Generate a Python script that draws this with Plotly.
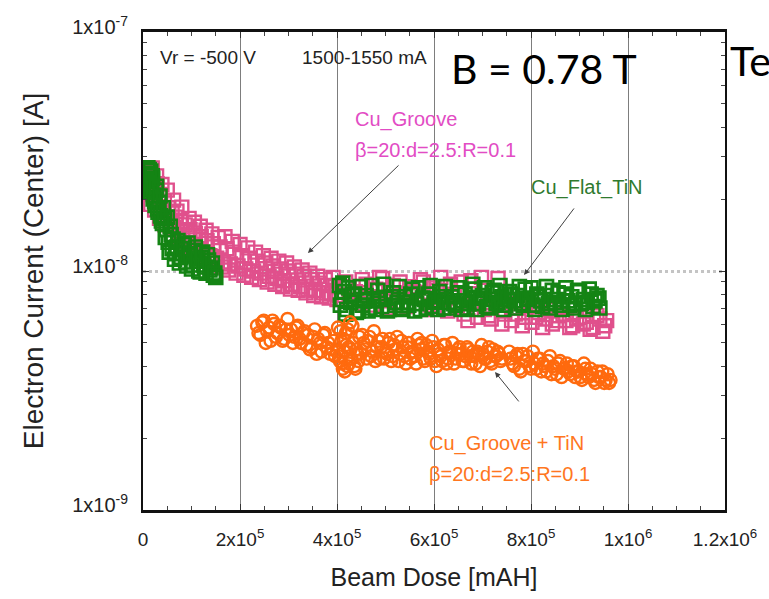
import plotly.graph_objects as go

# Beam dose in kmAH, electron current (center) in nA
groove_dose_k = [
    12, 14, 17, 20, 23, 26, 29, 32, 36, 40,
    44, 48, 52, 56, 60, 64, 68, 72, 77, 82,
    87, 92, 97, 102, 108, 114, 120, 126, 132, 138,
    145, 152, 159, 166, 173, 180, 188, 196, 204, 212,
    220, 228, 236, 244, 252, 260, 268, 276, 284, 292,
    300, 308, 316, 324, 332, 340, 348, 356, 364, 372,
    380, 388, 396, 404,
    412, 425, 438, 452, 466, 480, 494, 508, 522, 536,
    550, 564, 578, 592, 606, 620, 634, 648, 662, 676,
    690, 704, 718, 732, 746, 760, 774, 788, 802, 816,
    830, 844, 858, 872, 886, 900, 914, 928, 942, 952,
    13, 16, 19, 24, 28, 34, 39, 45, 50, 58,
    63, 70, 75, 80, 90, 95, 100, 106, 112, 118,
    124, 130, 136, 142, 148, 155, 162, 169, 176, 184,
    192, 200, 208, 216, 224, 232, 240, 248, 256, 264,
    272, 280, 288, 296, 304, 312, 320, 328, 336, 344,
    352, 360, 368, 376, 384, 392, 400,
    418, 432, 446, 460, 474, 488, 502, 516, 530, 544,
    558, 572, 586, 600, 614, 628, 642, 656, 670, 684,
    698, 712, 726, 740, 754, 768, 782, 796, 810, 824,
    838, 852, 866, 880, 894, 908, 922, 936, 948, 956,
]
groove_current_nA = [
    26.0, 23.5, 24.8, 21.0, 22.6, 19.8, 23.2, 18.6, 20.9, 17.9,
    19.6, 16.8, 18.4, 15.9, 17.6, 15.2, 16.8, 14.6, 16.1, 14.0,
    15.6, 13.5, 14.9, 12.9, 14.4, 12.4, 13.9, 12.0, 13.4, 11.6,
    13.0, 11.3, 12.6, 10.9, 12.4, 10.7, 12.0, 10.5, 11.6, 10.2,
    11.3, 10.0, 11.0, 9.8, 10.8, 9.5, 10.5, 9.3, 10.2, 9.1,
    10.0, 8.8, 9.7, 8.6, 9.5, 8.4, 9.2, 8.3, 8.9, 8.1,
    8.7, 8.0, 8.6, 7.9,
    8.6, 7.6, 8.2, 9.2, 7.8, 8.4, 9.3, 7.5, 8.1, 7.4,
    8.6, 7.9, 9.0, 7.2, 8.3, 7.6, 8.8, 7.0, 6.6, 9.1,
    6.4, 6.9, 6.3, 9.3, 6.6, 6.2, 7.0, 6.4, 6.1, 6.7,
    6.3, 6.0, 6.5, 6.2, 5.9, 6.4, 6.1, 5.8, 6.3, 5.9,
    21.5, 19.0, 27.0, 18.0, 25.0, 16.6, 23.0, 15.6, 21.8, 15.0,
    19.8, 17.8, 13.9, 18.5, 13.0, 16.6, 12.4, 16.0, 11.8, 15.4,
    11.5, 14.8, 11.1, 14.3, 10.8, 13.8, 10.4, 13.9, 10.1, 13.3,
    9.8, 12.9, 9.6, 12.5, 9.4, 12.0, 9.2, 11.6, 9.0, 11.3,
    8.8, 11.0, 8.6, 10.8, 8.4, 10.4, 8.3, 10.1, 8.1, 9.8,
    7.9, 9.5, 7.8, 9.2, 7.7, 9.4, 7.6,
    9.0, 8.0, 7.3, 8.8, 7.2, 9.4, 7.0, 8.7, 9.0, 7.1,
    8.2, 9.2, 6.9, 8.5, 9.4, 6.8, 8.0, 9.0, 6.2, 7.4,
    9.4, 6.5, 7.6, 6.0, 7.3, 6.6, 5.9, 7.1, 6.4, 5.8,
    6.9, 6.2, 6.6, 5.8, 6.3, 6.0, 5.7, 6.5, 5.6, 6.2,
]

flat_tin_dose_k = [
    10, 12, 14, 16, 18, 20, 22, 24, 27, 30,
    33, 36, 40, 44, 48, 52, 56, 60, 65, 70,
    75, 80, 85, 90, 95, 100, 105, 110, 115, 120,
    125, 130, 135, 140, 145, 150,
    11, 13, 15, 17, 19, 21, 25, 28, 31, 35,
    38, 42, 46, 50, 54, 58, 62, 67, 72, 78,
    83, 88, 93, 98, 103, 108, 113, 118, 123, 128,
    133, 138, 143, 148,
    405, 410, 415, 420, 428, 436, 444, 452, 460, 468,
    476, 484, 492, 500, 508, 516, 524, 532, 540, 548,
    556, 564, 572, 580, 588, 596, 604, 612, 620, 628,
    636, 644, 652, 660, 668, 676, 684, 692, 700, 708,
    716, 724, 732, 740, 748, 756, 764, 772, 780, 788,
    796, 804, 812, 820, 828, 836, 844, 852, 860, 868,
    876, 884, 892, 900, 908, 916, 924, 932, 940,
    407, 412, 418, 424, 432, 440, 448, 456, 464, 472,
    480, 488, 496, 504, 512, 520, 528, 536, 544, 552,
    560, 568, 576, 584, 592, 600, 608, 616, 624, 632,
    640, 648, 656, 664, 672, 680, 688, 696, 704, 712,
    720, 728, 736, 744, 752, 760, 768, 776, 784, 792,
    800, 808, 816, 824, 832, 840, 848, 856, 864, 872,
    880, 888, 896, 904, 912, 920, 928, 936, 942,
]
flat_tin_current_nA = [
    27.0, 25.5, 23.8, 26.2, 22.0, 24.4, 20.8, 19.6, 21.8, 18.2,
    19.4, 17.0, 15.8, 16.6, 14.9, 13.2, 15.4, 12.4, 11.2, 12.6,
    10.8, 11.9, 12.9, 10.5, 11.6, 10.2, 12.2, 11.0, 10.0, 11.4,
    10.6, 9.8, 11.1, 10.3, 9.6, 9.4,
    24.0, 26.6, 21.4, 23.0, 25.0, 20.0, 18.8, 22.6, 17.6, 20.6,
    16.2, 18.4, 13.8, 16.8, 12.0, 14.2, 13.6, 11.8, 13.4, 11.4,
    12.4, 10.9, 13.1, 11.8, 10.6, 12.6, 11.3, 9.9, 12.0, 10.4,
    11.7, 10.1, 10.8, 9.8,
    8.7, 7.6, 8.2, 6.9, 7.4, 8.0, 6.8, 7.2, 7.9, 7.0,
    7.5, 8.3, 7.1, 7.7, 6.9, 8.1, 7.4, 7.0, 7.8, 7.2,
    8.4, 7.3, 6.9, 7.6, 8.0, 7.1, 7.5, 8.2, 7.0, 7.4,
    7.8, 7.2, 8.1, 7.5, 7.0, 7.7, 8.4, 7.3, 7.9, 7.1,
    7.6, 8.3, 7.4, 7.8, 7.2, 8.2, 7.5, 7.9, 7.3, 8.4,
    7.6, 7.2, 8.0, 7.5, 7.9, 7.3, 8.3, 7.6, 7.2, 8.0,
    7.5, 7.8, 7.3, 8.2, 7.6, 7.4, 8.0, 7.5, 7.7,
    7.2, 8.9, 6.6, 8.5, 7.9, 6.7, 8.6, 7.5, 6.8, 8.7,
    6.9, 7.6, 8.8, 6.8, 7.8, 7.2, 8.6, 6.9, 7.4, 8.0,
    6.8, 8.5, 7.7, 7.0, 8.7, 7.4, 6.9, 7.8, 8.6, 7.0,
    7.3, 8.5, 6.9, 8.0, 7.3, 8.8, 6.9, 7.7, 8.5, 7.0,
    8.1, 7.3, 8.7, 6.9, 7.6, 8.0, 7.0, 8.6, 7.2, 7.7,
    8.5, 6.9, 7.8, 7.1, 8.6, 7.0, 7.4, 8.1, 6.9, 8.5,
    7.2, 7.0, 8.3, 7.3, 6.9, 8.4, 7.1, 7.9, 7.0,
]

groove_tin_dose_k = [
    235, 242, 249, 256, 263, 270, 277, 284, 291, 298,
    305, 312, 319, 326, 333, 340, 347, 354, 361, 368,
    375, 382, 389, 396,
    402, 406, 409, 412, 415, 418, 421, 424, 427, 430,
    434, 438, 442, 446,
    452, 458, 464, 470, 476, 482, 488, 494, 500, 506,
    512, 518, 524, 530, 536, 542, 548, 554, 560, 566,
    572, 578, 584, 590, 596, 602, 608, 614, 620, 626,
    632, 638, 644, 650, 656, 662, 668, 674, 680, 686,
    692, 698, 704, 710, 716, 722, 728, 734, 740,
    755, 762, 769, 776, 783, 790, 797, 804, 811, 818,
    825, 832, 839, 846, 853, 860, 867, 874, 881, 888,
    895, 902, 909, 916, 923, 930, 937, 944, 951, 958,
    964,
    238, 246, 253, 260, 267, 274, 281, 288, 295, 302,
    309, 316, 323, 330, 337, 344, 351, 358, 365, 372,
    379, 386, 393, 400,
    404, 407, 410, 413, 416, 419, 422, 425, 428, 432,
    436, 440, 444,
    449, 455, 461, 467, 473, 479, 485, 491, 497, 503,
    509, 515, 521, 527, 533, 539, 545, 551, 557, 563,
    569, 575, 581, 587, 593, 599, 605, 611, 617, 623,
    629, 635, 641, 647, 653, 659, 665, 671, 677, 683,
    689, 695, 701, 707, 713, 719, 725, 731, 737,
    758, 765, 772, 779, 786, 793, 800, 807, 814, 821,
    828, 835, 842, 849, 856, 863, 870, 877, 884, 891,
    898, 905, 912, 919, 926, 933, 940, 947, 954, 961,
]
groove_tin_current_nA = [
    5.9, 5.4, 6.2, 5.6, 5.1, 6.0, 5.5, 5.8, 5.2, 6.3,
    5.7, 5.3, 5.9, 5.0, 5.6, 5.4, 4.8, 5.7, 5.2, 4.6,
    5.5, 5.0, 4.7, 4.4,
    5.8, 4.2, 5.1, 3.9, 4.6, 5.5, 4.0, 4.8, 6.1, 4.3,
    5.0, 3.9, 4.5, 5.3,
    5.4, 4.7, 5.1, 4.4, 5.6, 4.8, 4.3, 5.2, 4.6, 5.0,
    4.2, 4.9, 5.3, 4.5, 4.8, 4.1, 5.0, 4.6, 4.4, 5.2,
    4.7, 4.3, 4.9, 4.5, 5.1, 4.2, 4.7, 4.4, 4.9, 4.1,
    4.6, 5.0, 4.3, 4.7, 4.5, 4.2, 4.8, 4.4, 4.6, 4.1,
    4.5, 4.9, 4.3, 4.6, 4.2, 4.7, 4.4, 4.5, 4.3,
    4.6, 4.1, 4.4, 3.9, 4.5, 4.2, 4.0, 4.6, 3.9, 4.3,
    4.1, 3.8, 4.4, 4.0, 3.7, 4.2, 3.9, 4.1, 3.7, 4.0,
    3.8, 3.6, 4.1, 3.7, 3.9, 3.5, 3.8, 3.6, 3.4, 3.7,
    3.5,
    5.5, 6.1, 5.0, 5.8, 6.2, 5.3, 5.9, 5.1, 5.7, 5.4,
    5.0, 5.8, 5.2, 5.5, 4.9, 4.7, 5.3, 4.5, 5.0, 5.4,
    4.8, 4.5, 5.1, 4.6,
    4.4, 5.6, 4.1, 5.2, 3.8, 4.9, 5.7, 4.1, 4.7, 5.9,
    4.0, 4.7, 4.2,
    4.5, 5.0, 4.3, 5.3, 4.6, 4.2, 5.1, 4.8, 4.3, 4.5,
    5.2, 4.4, 4.7, 4.2, 5.1, 4.4, 4.8, 4.3, 4.6, 4.1,
    4.9, 5.0, 4.2, 4.6, 4.3, 4.8, 4.0, 4.5, 4.2, 4.9,
    4.3, 4.6, 4.1, 4.5, 4.8, 4.2, 4.4, 4.7, 4.1, 4.4,
    4.6, 4.0, 4.5, 4.3, 4.8, 4.1, 4.4, 4.6, 4.2,
    4.3, 4.0, 4.5, 3.8, 4.2, 4.4, 3.9, 4.1, 4.3, 3.8,
    4.0, 4.2, 3.7, 3.9, 4.1, 3.6, 3.9, 3.8, 4.0, 3.6,
    3.8, 3.5, 3.9, 3.6, 3.7, 3.4, 3.6, 3.8, 3.5, 3.4,
]

x_tick_vals = [0, 2e5, 4e5, 6e5, 8e5, 1e6, 1.2e6]
x_tick_text = ["0", "2x10<sup>5</sup>", "4x10<sup>5</sup>", "6x10<sup>5</sup>",
               "8x10<sup>5</sup>", "1x10<sup>6</sup>", "1.2x10<sup>6</sup>"]
y_tick_vals = [1e-9, 1e-8, 1e-7]
y_tick_text = ["1x10<sup>-9</sup>", "1x10<sup>-8</sup>", "1x10<sup>-7</sup>"]
y_minor_vals = [m * 1e-9 for m in range(2, 10)] + [m * 1e-8 for m in range(2, 10)]

PINK = "#e0508c"
GREEN = "#148414"
ORANGE = "#ff6a0e"
LABEL_MAGENTA = "#e24cc4"
LABEL_GREEN = "#2f7a2f"
LABEL_ORANGE = "#ff7620"
FONT = "Liberation Sans, Arial, sans-serif"


def dose(vals):
    return [v * 1e3 for v in vals]


def current(vals):
    return [v * 1e-9 for v in vals]


fig = go.Figure()
fig.add_trace(go.Scatter(
    x=dose(groove_dose_k), y=current(groove_current_nA), mode="markers",
    name="Cu_Groove",
    marker=dict(symbol="square-open", size=13, color=PINK, line=dict(width=2.4, color=PINK)),
))
fig.add_trace(go.Scatter(
    x=dose(flat_tin_dose_k), y=current(flat_tin_current_nA), mode="markers",
    name="Cu_Flat_TiN",
    marker=dict(symbol="square-open", size=13, color=GREEN, line=dict(width=2.6, color=GREEN)),
))
fig.add_trace(go.Scatter(
    x=dose(groove_tin_dose_k), y=current(groove_tin_current_nA), mode="markers",
    name="Cu_Groove + TiN",
    marker=dict(symbol="circle-open", size=12, color=ORANGE, line=dict(width=2.4, color=ORANGE)),
))

text_notes = [
    # (text, x [mAH], log10 y, size, colour)
    ("Vr = -500 V", 31e3, -7.105, 19, "#222222"),
    ("1500-1550 mA", 324e3, -7.105, 19, "#222222"),
    ("Cu_Groove", 433e3, -7.364, 20, LABEL_MAGENTA),
    ("β=20:d=2.5:R=0.1", 433e3, -7.494, 20, LABEL_MAGENTA),
    ("Cu_Flat_TiN", 796e3, -7.649, 20, LABEL_GREEN),
    ("Cu_Groove + TiN", 585e3, -8.720, 20, LABEL_ORANGE),
    ("β=20:d=2.5:R=0.1", 585e3, -8.849, 20, LABEL_ORANGE),
]
for txt, xv, yv, sz, col in text_notes:
    fig.add_annotation(x=xv, y=yv, xref="x", yref="y", text=txt, showarrow=False,
                       xanchor="left", yanchor="middle",
                       font=dict(family=FONT, size=sz, color=col))

fig.add_annotation(x=631e3, y=-7.151, xref="x", yref="y", text="B = 0.78 T",
                   showarrow=False, xanchor="left", yanchor="middle",
                   font=dict(family="Lato, Open Sans, sans-serif", size=41, color="#000000"))
fig.add_annotation(x=1.005, y=0.941, xref="paper", yref="paper", text="Te",
                   showarrow=False, xanchor="left", yanchor="middle",
                   font=dict(family="Lato, Open Sans, sans-serif", size=41, color="#000000"))

pointer_arrows = [
    # (head x, head log10 y, tail x, tail log10 y)
    (340e3, -7.925, 530e3, -7.552),
    (785.6e3, -8.017, 891e3, -7.732),
    (725.8e3, -8.4226, 777.3e3, -8.552),
]
for hx, hy, tx, ty in pointer_arrows:
    fig.add_annotation(x=hx, y=hy, ax=tx, ay=ty, xref="x", yref="y",
                       axref="x", ayref="y", text="", showarrow=True,
                       arrowhead=2, arrowsize=1.1, arrowwidth=1, arrowcolor="#404040",
                       standoff=0, startstandoff=0)

fig.update_xaxes(
    range=[0, 1.2e6], tickmode="array", tickvals=x_tick_vals, ticktext=x_tick_text,
    showline=True, linecolor="#111111", linewidth=3, mirror="ticks",
    ticks="inside", ticklen=6, tickcolor="#333333", tickwidth=1,
    showgrid=True, gridcolor="#7d7d7d", gridwidth=1.2,
    zeroline=False,
    minor=dict(tickmode="linear", tick0=0, dtick=5e4, ticks="inside", ticklen=4,
               tickcolor="#444444", showgrid=False),
    tickfont=dict(family=FONT, size=19, color="#222222"),
    ticklabelstandoff=10,
    title=dict(text="Beam Dose [mAH]", standoff=20,
               font=dict(family=FONT, size=25, color="#222222")),
)
fig.update_yaxes(
    type="log", range=[-9, -7], tickmode="array", tickvals=y_tick_vals, ticktext=y_tick_text,
    showline=True, linecolor="#111111", linewidth=2, mirror="ticks",
    ticks="inside", ticklen=6, tickcolor="#333333", tickwidth=1,
    showgrid=True, gridcolor="#c4c4c4", gridwidth=3, griddash="dot",
    zeroline=False,
    minor=dict(tickmode="array", tickvals=y_minor_vals, ticks="inside", ticklen=4,
               tickcolor="#444444", showgrid=False),
    tickfont=dict(family=FONT, size=20, color="#222222"),
    ticklabelstandoff=9,
    ticklabelshift=-5,
    title=dict(text="Electron Current (Center) [A]", standoff=20,
               font=dict(family=FONT, size=28, color="#222222")),
)

fig.update_layout(
    width=769, height=599,
    margin=dict(l=143, r=44, t=32, b=89),
    paper_bgcolor="white", plot_bgcolor="white",
    showlegend=False,
    font=dict(family=FONT),
)

fig.write_html("out.html")
